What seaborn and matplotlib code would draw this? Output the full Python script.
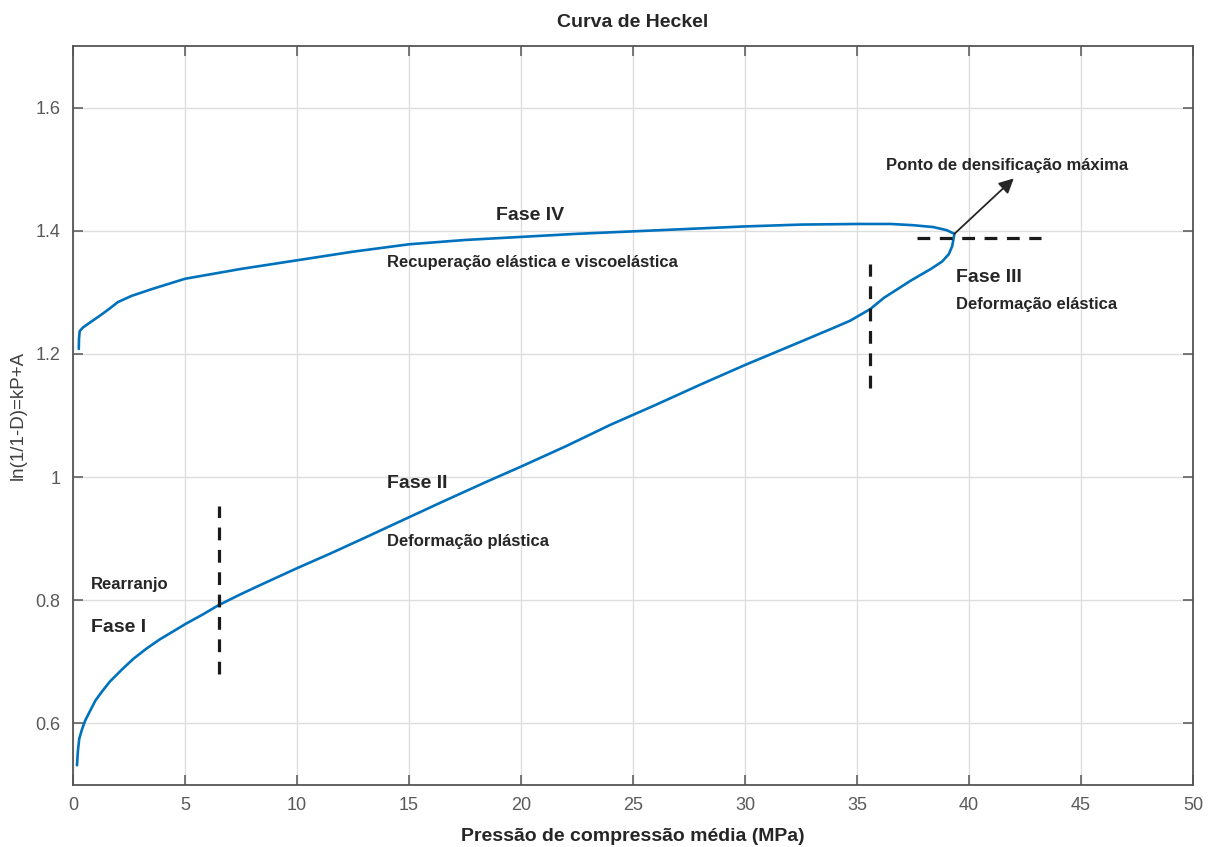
import matplotlib
matplotlib.use("Agg")
import matplotlib.pyplot as plt
import seaborn as sns
import pandas as pd

# ---- data ----
load_x = [0.18, 0.22, 0.28, 0.40, 0.55, 0.76, 1.0, 1.3, 1.65, 2.2, 2.7, 3.3, 3.9, 4.5,
          5.0, 5.8, 6.5, 7.5, 8.5, 10.0, 11.5, 13.0, 14.6, 16.5, 18.5, 20.0, 22.0, 24.0,
          26.0, 28.0, 30.0, 32.5, 34.0, 34.7, 35.6, 36.2, 36.8, 37.4, 38.3, 38.8, 39.1,
          39.25, 39.35]
load_y = [0.532, 0.555, 0.575, 0.590, 0.605, 0.620, 0.637, 0.652, 0.668, 0.688, 0.705,
          0.722, 0.737, 0.750, 0.761, 0.777, 0.792, 0.810, 0.827, 0.852, 0.876, 0.901,
          0.928, 0.960, 0.993, 1.017, 1.050, 1.085, 1.117, 1.150, 1.182, 1.220, 1.243,
          1.254, 1.273, 1.291, 1.305, 1.319, 1.338, 1.350, 1.362, 1.375, 1.395]

unload_x = [39.35, 39.0, 38.4, 37.5, 36.5, 35.0, 32.5, 30.0, 27.5, 25.0, 22.5, 20.0, 17.5,
            15.0, 12.5, 10.0, 7.5, 5.0, 3.5, 2.6, 2.0, 1.65, 1.2, 0.8, 0.45, 0.30, 0.27, 0.26]
unload_y = [1.395, 1.401, 1.406, 1.409, 1.411, 1.411, 1.410, 1.407, 1.403, 1.399, 1.395,
            1.390, 1.385, 1.378, 1.366, 1.352, 1.338, 1.322, 1.305, 1.294, 1.284, 1.274,
            1.262, 1.252, 1.243, 1.237, 1.225, 1.208]

x_ticks = [0, 5, 10, 15, 20, 25, 30, 35, 40, 45, 50]
y_ticks = [0.6, 0.8, 1.0, 1.2, 1.4, 1.6]
y_tick_labels = ["0.6", "0.8", "1", "1.2", "1.4", "1.6"]

title = "Curva de Heckel"
x_label = "Pressão de compressão média (MPa)"
y_label = "ln(1/1-D)=kP+A"

# ---- styling ----
sns.set_theme(style="white")
plt.rcParams["font.family"] = ["Liberation Sans", "DejaVu Sans"]

TXT = "#262626"
AX = "#555555"
BLUE = "#0072BD"

fig = plt.figure(figsize=(12.14, 8.47), dpi=100)
ax = fig.add_axes([0.0601, 0.0732, 0.9226, 0.8725])

df = pd.DataFrame({"P": load_x + unload_x, "v": load_y + unload_y})
sns.lineplot(data=df, x="P", y="v", sort=False, estimator=None, color=BLUE,
             linewidth=1.9, ax=ax)

ax.set_xlim(0, 50)
ax.set_ylim(0.5, 1.7)
ax.set_xticks(x_ticks)
ax.set_yticks(y_ticks)
ax.set_yticklabels(y_tick_labels)
ax.grid(True, color="#dedede", linewidth=1.0)
ax.set_axisbelow(True)
for s in ax.spines.values():
    s.set_visible(True)
    s.set_color(AX)
    s.set_linewidth(1.3)
ax.tick_params(direction="in", length=7, width=1.1, color=AX, labelcolor="#595959",
               labelsize=13, top=True, right=True, bottom=True, left=True, pad=9)

ax.set_title(title, fontsize=14, fontweight="bold", color=TXT, pad=14)
ax.set_xlabel(x_label, fontsize=14, fontweight="bold", color=TXT, labelpad=10)
ax.set_ylabel(y_label, fontsize=13.5, color="#404040", labelpad=6)

# dashed phase separators
dash = dict(color="#1a1a1a", linewidth=2.3, linestyle=(0, (4, 3)))
ax.plot([6.5, 6.5], [0.681, 0.953], **dash)
ax.plot([35.6, 35.6], [1.145, 1.346], **dash)
ax.plot([37.7, 43.2], [1.389, 1.389], **dash)

# annotations
big = dict(fontsize=14, fontweight="bold", color=TXT, va="center", ha="left")
small = dict(fontsize=12, fontweight="bold", color=TXT, va="center", ha="left")
ax.text(0.8, 0.826, "Rearranjo", **small)
ax.text(0.8, 0.755, "Fase I", **big)
ax.text(14.0, 0.990, "Fase II", **big)
ax.text(14.0, 0.896, "Deformação plástica", **small)
ax.text(18.9, 1.424, "Fase IV", **big)
ax.text(14.0, 1.348, "Recuperação elástica e viscoelástica", **small)
ax.text(39.4, 1.324, "Fase III", **big)
ax.text(39.4, 1.281, "Deformação elástica", **small)
ax.text(36.3, 1.506, "Ponto de densificação máxima", **small)
ax.annotate("", xy=(42.0, 1.485), xytext=(39.35, 1.395),
            arrowprops=dict(arrowstyle="-|>", color="#262626", lw=1.3,
                            mutation_scale=22, shrinkA=0, shrinkB=0))

fig.savefig("out.png", dpi=100)
